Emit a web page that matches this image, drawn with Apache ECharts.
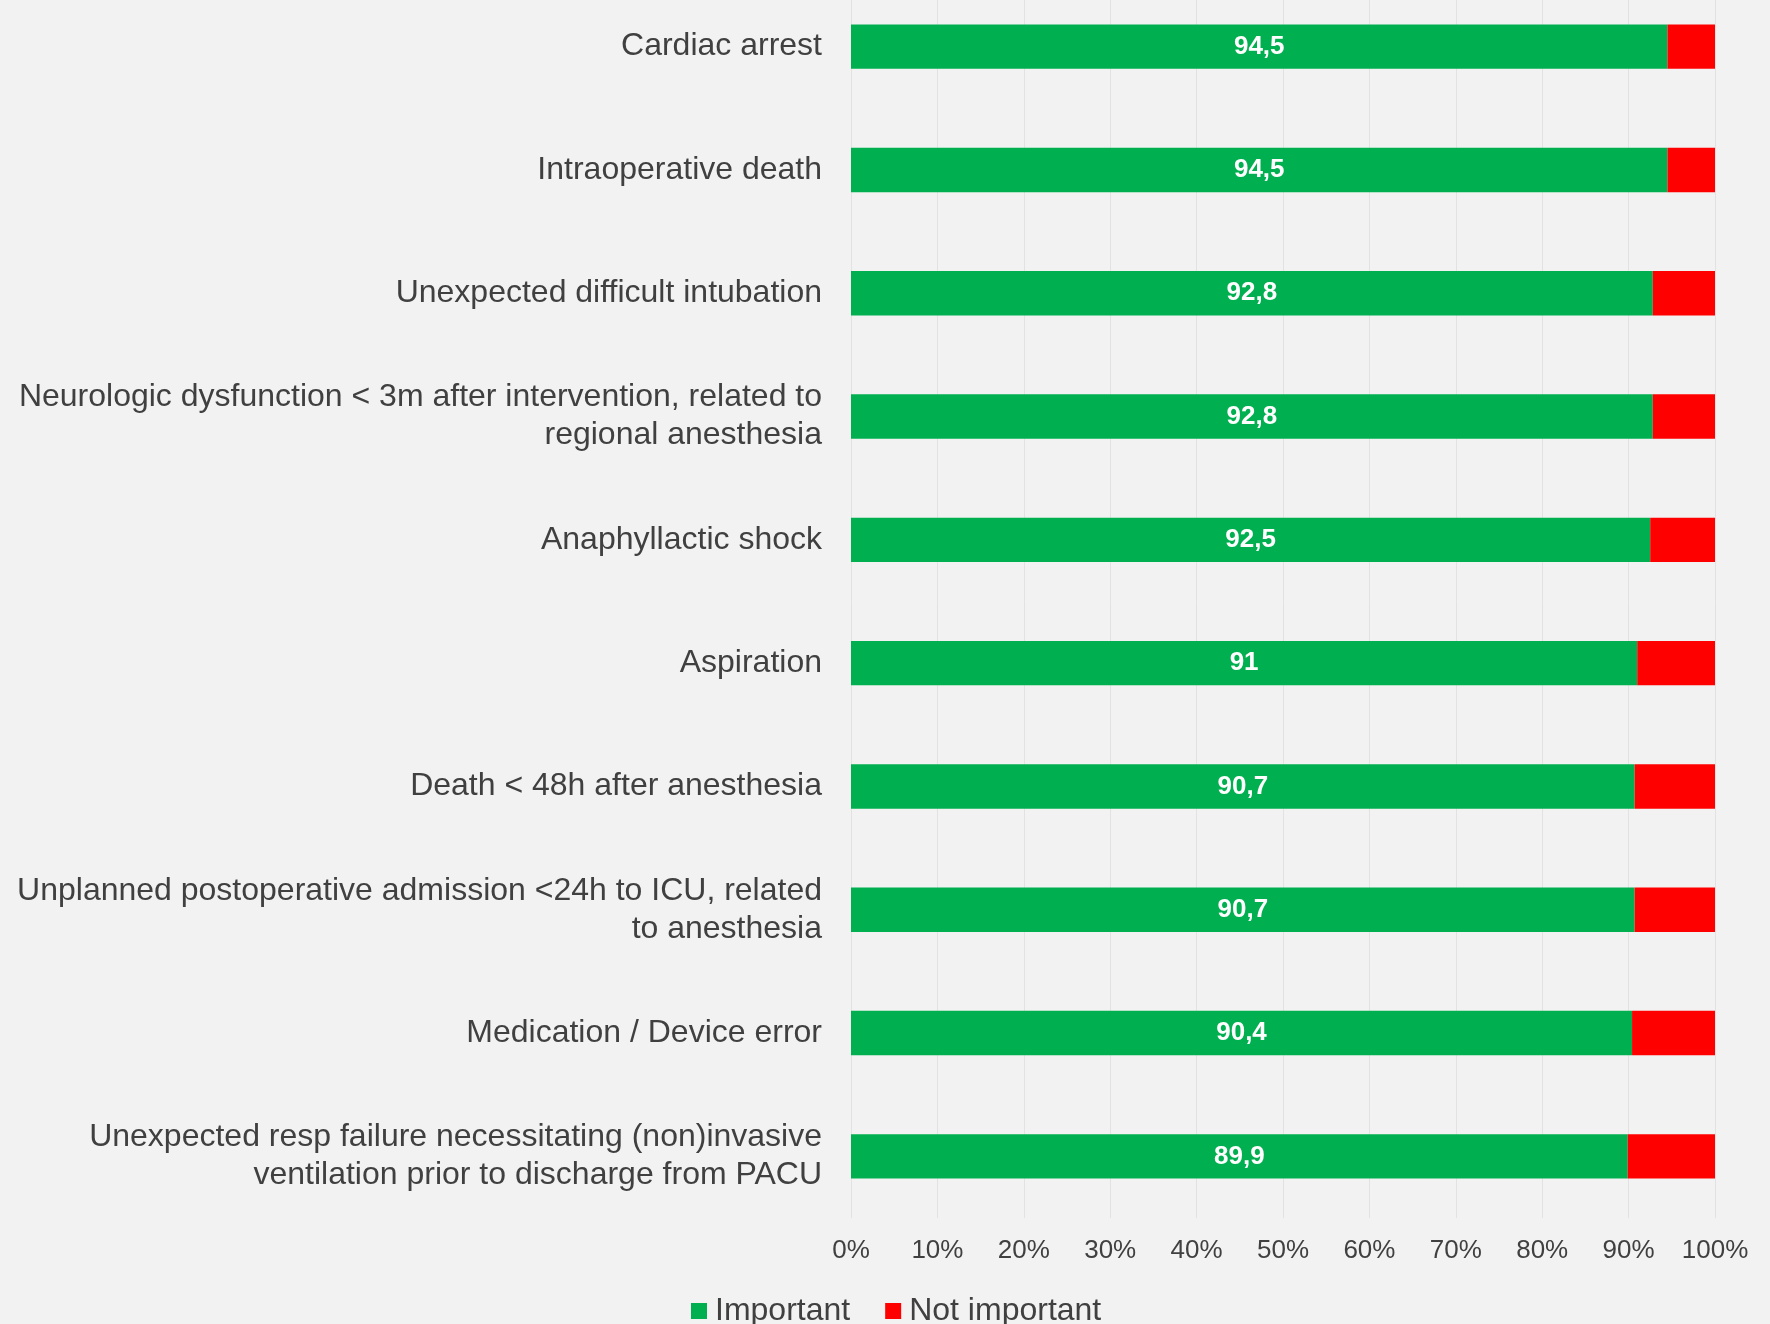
<!DOCTYPE html>
<html>
<head>
<meta charset="utf-8">
<script src="https://cdn.jsdelivr.net/npm/echarts@6/dist/echarts.min.js"></script>
<style>
  html, body { margin: 0; padding: 0; background: #f2f2f2; overflow: hidden; }
  #chart { width: 1770px; height: 1340px; margin-top: -15px; }
</style>
</head>
<body>
<div id="chart"></div>
<script>
// categories, top to bottom
const categories = [
  'Cardiac arrest',
  'Intraoperative death',
  'Unexpected difficult intubation',
  'Neurologic dysfunction < 3m after intervention, related to\nregional anesthesia',
  'Anaphyllactic shock',
  'Aspiration',
  'Death < 48h after anesthesia',
  'Unplanned postoperative admission <24h to ICU, related\nto anesthesia',
  'Medication / Device error',
  'Unexpected resp failure necessitating (non)invasive\nventilation prior to discharge from PACU'
];
const important = [94.5, 94.5, 92.8, 92.8, 92.5, 91, 90.7, 90.7, 90.4, 89.9];
const notImportant = [5.5, 5.5, 7.2, 7.2, 7.5, 9, 9.3, 9.3, 9.6, 10.1];
const xTicks = ['0%', '10%', '20%', '30%', '40%', '50%', '60%', '70%', '80%', '90%', '100%'];

const font = 'Liberation Sans, Arial, sans-serif';
const chart = echarts.init(document.getElementById('chart'));

// the plot area starts a little above the top edge of the picture, hence the -15px shift of the div
chart.setOption({
  animation: false,
  backgroundColor: '#f2f2f2',
  textStyle: { fontFamily: font },
  grid: { left: 851, right: 55, top: 0, bottom: 107 },
  legend: {
    data: ['Important', 'Not important'],
    left: 686,
    top: 1305,
    icon: 'rect',
    itemWidth: 16,
    itemHeight: 16,
    itemGap: 35,
    textStyle: { fontSize: 32, color: '#404040', fontFamily: font, padding: [0, 0, 0, 3] }
  },
  xAxis: {
    type: 'value',
    min: 0,
    max: 100,
    interval: 10,
    axisLine: { show: false },
    axisTick: { show: false },
    splitLine: { show: true, lineStyle: { color: '#e2e2e2', width: 1 } },
    axisLabel: {
      margin: 20,
      fontSize: 26,
      color: '#404040',
      formatter: (v) => xTicks[Math.round(v / 10)]
    }
  },
  yAxis: {
    type: 'category',
    inverse: true,
    data: categories,
    axisLine: { show: false },
    axisTick: { show: false },
    axisLabel: {
      margin: 29,
      fontSize: 32,
      lineHeight: 38,
      color: '#404040',
      align: 'right',
      padding: [4, 0, 0, 0]
    }
  },
  series: [
    {
      name: 'Important',
      type: 'bar',
      stack: 'total',
      barCategoryGap: '64%',
      data: important,
      itemStyle: { color: '#00b050' },
      label: {
        show: true,
        position: 'inside',
        color: '#ffffff',
        fontWeight: 'bold',
        fontSize: 26,
        padding: [3, 0, 0, 0],
        formatter: (p) => String(p.value).replace('.', ',')
      }
    },
    {
      name: 'Not important',
      type: 'bar',
      stack: 'total',
      data: notImportant,
      itemStyle: { color: '#ff0000' }
    }
  ]
});
</script>
</body>
</html>
